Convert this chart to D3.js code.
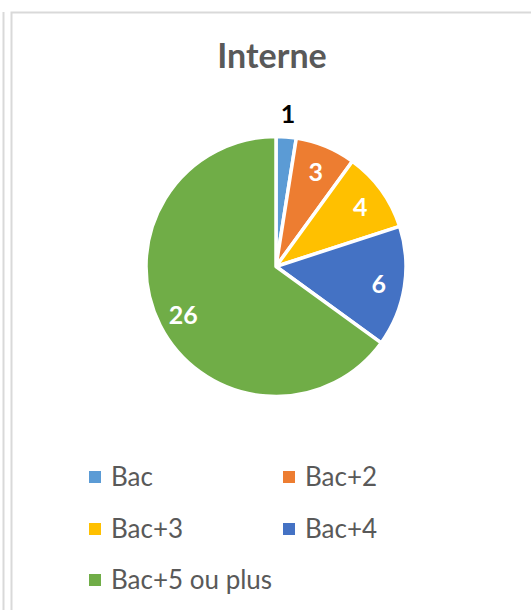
<!DOCTYPE html>
<html>
<head>
<meta charset="utf-8">
<script src="https://cdn.jsdelivr.net/npm/d3@7"></script>
<style>
  html, body { margin: 0; padding: 0; background: #ffffff; }
  svg { display: block; }
</style>
</head>
<body>
<svg id="chart" width="532" height="610"></svg>
<script>
const title = "Interne";
const categories = ["Bac", "Bac+2", "Bac+3", "Bac+4", "Bac+5 ou plus"];
const values = [1, 3, 4, 6, 26];
const colors = ["#5B9BD5", "#ED7D31", "#FFC000", "#4472C4", "#70AD47"];

const svg = d3.select("#chart");
const font = "Lato, 'Open Sans', sans-serif";

// frames
svg.append("line").attr("x1", 3.5).attr("x2", 3.5).attr("y1", 12).attr("y2", 610)
  .attr("stroke", "#d9d9d9").attr("stroke-width", 2);
svg.append("path").attr("d", "M11.5,610 V12.5 H531")
  .attr("fill", "none").attr("stroke", "#d9d9d9").attr("stroke-width", 2);

// title
svg.append("text").attr("x", 272).attr("y", 68).attr("text-anchor", "middle")
  .attr("font-family", font).attr("font-weight", "bold").attr("font-size", 34)
  .attr("fill", "#595959").text(title);

const cx = 276, cy = 266.5, r = 130;
const data = categories.map((c, i) => ({ cat: c, value: values[i], color: colors[i] }));
const pie = d3.pie().value(d => d.value).sort(null);
const arcs = pie(data);
const arc = d3.arc().innerRadius(0).outerRadius(r);
const labelArc = d3.arc().innerRadius(104).outerRadius(104);
const outArc = d3.arc().innerRadius(154).outerRadius(154);

const g = svg.append("g").attr("transform", `translate(${cx},${cy})`);
g.selectAll("path.slice").data(arcs).enter().append("path")
  .attr("class", "slice")
  .attr("d", arc)
  .attr("fill", d => d.data.color)
  .attr("stroke", "#ffffff").attr("stroke-width", 3.5).attr("stroke-linejoin", "round");

g.selectAll("text.lbl").data(arcs).enter().append("text")
  .attr("class", "lbl")
  .attr("transform", d => {
    const small = (d.endAngle - d.startAngle) < 0.3;
    const p = small ? outArc.centroid(d) : labelArc.centroid(d);
    return `translate(${p[0]},${p[1]})`;
  })
  .attr("text-anchor", "middle").attr("dy", "0.42em")
  .attr("font-family", font).attr("font-weight", "bold").attr("font-size", 25)
  .attr("fill", d => (d.endAngle - d.startAngle) < 0.3 ? "#000000" : "#ffffff")
  .text(d => d.data.value);

// legend
const legX = [89, 283];
const legY = [477, 529, 580];
const leg = svg.append("g");
data.forEach((d, i) => {
  const x = legX[i % 2], y = legY[Math.floor(i / 2)];
  leg.append("rect").attr("x", x).attr("y", y - 6).attr("width", 12).attr("height", 12)
    .attr("fill", d.color);
  leg.append("text").attr("x", x + 22).attr("y", y).attr("dy", "0.35em")
    .attr("font-family", font).attr("font-size", 26).attr("fill", "#595959")
    .text(d.cat);
});
</script>
</body>
</html>
